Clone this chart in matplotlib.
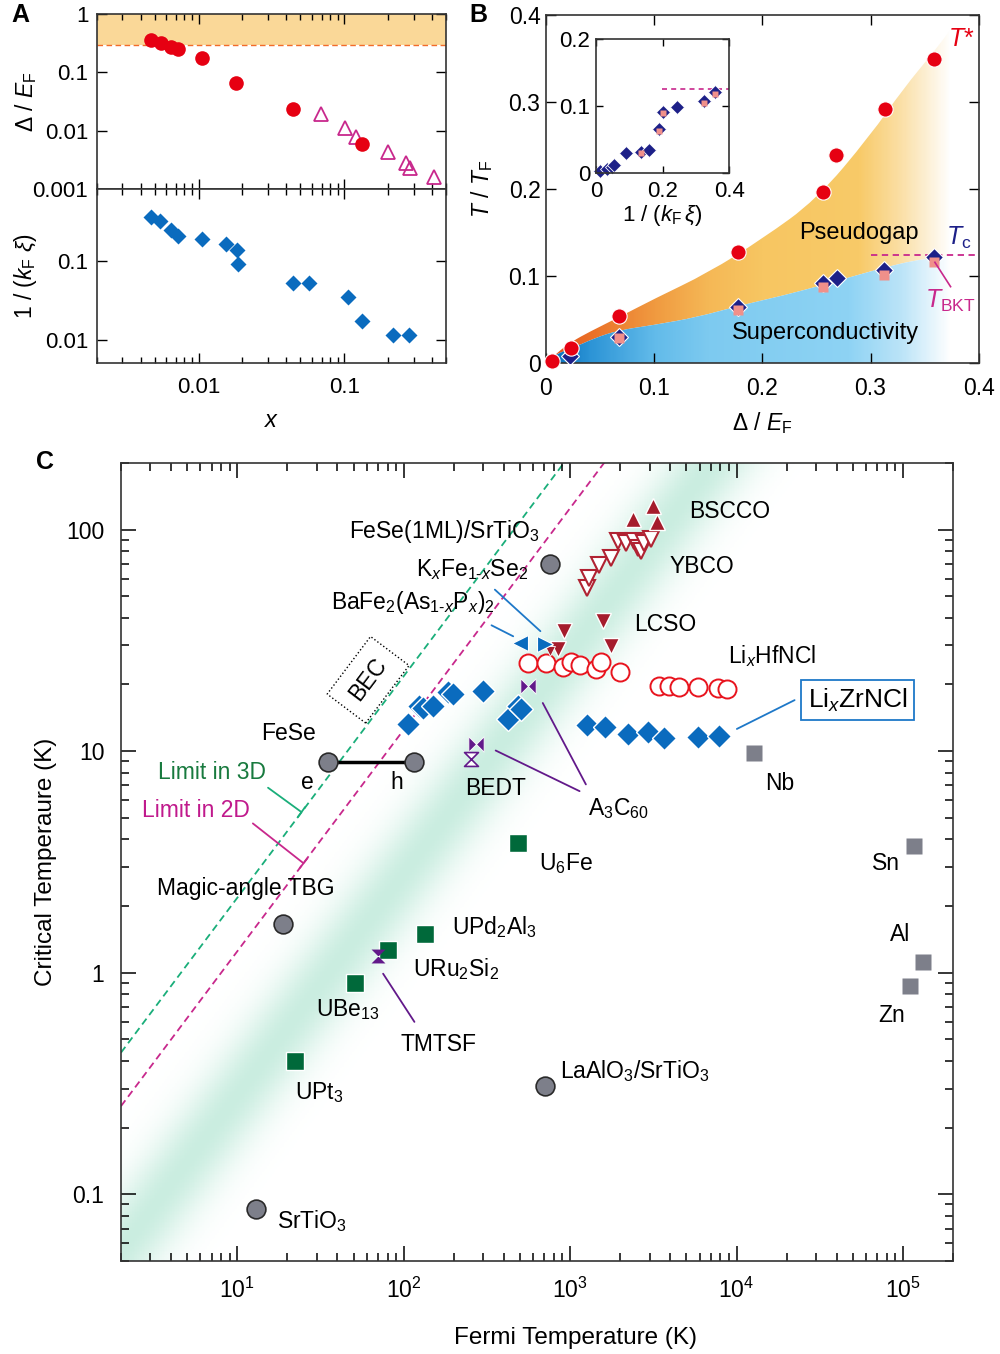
import numpy as np
import matplotlib
matplotlib.use('Agg')
import matplotlib.pyplot as plt
from matplotlib.path import Path
from matplotlib.patches import PathPatch
from matplotlib.colors import LinearSegmentedColormap
from matplotlib.ticker import NullLocator, NullFormatter

plt.rcParams['font.family'] = ['Liberation Sans', 'DejaVu Sans']
plt.rcParams['mathtext.fontset'] = 'custom'
plt.rcParams['mathtext.rm'] = 'Liberation Sans'
plt.rcParams['mathtext.it'] = 'Liberation Sans:italic'
plt.rcParams['mathtext.bf'] = 'Liberation Sans:bold'
plt.rcParams['axes.edgecolor'] = '#333333'
plt.rcParams['axes.linewidth'] = 1.2

# ---------------- datos panel A ----------------
a_x_circ = [0.0047, 0.0055, 0.0065, 0.0072, 0.0106, 0.0182, 0.0446, 0.132]
a_gap_circ = [0.36, 0.315, 0.27, 0.248, 0.179, 0.067, 0.0233, 0.0059]
a_x_tri = [0.069, 0.101, 0.121, 0.199, 0.264, 0.285, 0.413]
a_gap_tri = [0.0194, 0.011, 0.0079, 0.0044, 0.0028, 0.0023, 0.0016]
a_x_dia = [0.0047, 0.00545, 0.0065, 0.0072, 0.0106, 0.0155, 0.0184, 0.0187,
           0.0446, 0.0577, 0.107, 0.132, 0.217, 0.278]
a_kxi = [0.354, 0.315, 0.246, 0.202, 0.189, 0.160, 0.135, 0.0898,
         0.0513, 0.0513, 0.0348, 0.0174, 0.0115, 0.0115]

# ---------------- datos panel B ----------------
b_gap = [0.0053, 0.0228, 0.0675, 0.1772, 0.2557, 0.2681, 0.3134, 0.359]
b_tstar = [0.003, 0.018, 0.0547, 0.1275, 0.1964, 0.2392, 0.292, 0.3495]
b_gap_tc = [0.0222, 0.0675, 0.1778, 0.2564, 0.2687, 0.3128, 0.359]
b_tc = [0.0084, 0.0306, 0.065, 0.0919, 0.0984, 0.1072, 0.1225]
b_gap_bkt = [0.0675, 0.1778, 0.2564, 0.3128, 0.359]
b_tbkt = [0.0287, 0.0612, 0.0875, 0.1018, 0.1163]
# bordes de las zonas sombreadas (puntos de control)
tstar_edge_x = [0, 0.01, 0.024, 0.04, 0.0675, 0.1, 0.15, 0.2, 0.25, 0.3, 0.33, 0.36, 0.375]
tstar_edge_y = [0, 0.012, 0.025, 0.036, 0.053, 0.074, 0.104, 0.143, 0.188, 0.262, 0.315, 0.36, 0.385]
tc_edge_x = [0, 0.007, 0.024, 0.045, 0.0675, 0.1, 0.14, 0.178, 0.22, 0.256, 0.29, 0.313, 0.34, 0.36, 0.375]
tc_edge_y = [0, 0.0095, 0.017, 0.029, 0.038, 0.044, 0.053, 0.066, 0.078, 0.09, 0.102, 0.110, 0.118, 0.121, 0.122]
# inset
in_kxi = [0.012, 0.034, 0.047, 0.054, 0.09, 0.134, 0.16, 0.19, 0.202, 0.242, 0.324, 0.357]
in_tc = [0.0025, 0.005, 0.009, 0.0115, 0.029, 0.0315, 0.034, 0.065, 0.0915, 0.098, 0.1075, 0.1215]
in_kxi_bkt = [0.134, 0.19, 0.202, 0.324, 0.357]
in_tbkt = [0.030, 0.0625, 0.089, 0.104, 0.1175]

# ---------------- datos panel C (TF, Tc en K) ----------------
circ_tf = [755, 18.9, 13.0, 703]          # FeSe/STO, TBG, SrTiO3, LAO/STO
circ_tc = [70.3, 1.66, 0.0857, 0.307]
fese_tf = [35.2, 116]                       # FeSe e, h
fese_tc = [8.96, 8.96]
elem_tf = [12800, 116700, 131900, 110200]   # Nb, Sn, Al, Zn
elem_tc = [9.77, 3.74, 1.12, 0.87]
hf_tf = [484, 133.6, 80.9, 50.7, 22.1]      # U6Fe, UPd2Al3, URu2Si2, UBe13, UPt3
hf_tc = [3.86, 1.5, 1.27, 0.90, 0.40]
dia_tf = [106, 123, 130, 150, 184, 197, 299, 422, 484, 508]
dia_tc = [13.2, 16.0, 15.7, 16.0, 18.5, 18.1, 18.7, 13.9, 16.0, 15.5]
zr_tf = [1256, 1622, 2222, 2957, 3677, 5847, 7816]
zr_tc = [13.1, 12.8, 11.97, 12.2, 11.5, 11.6, 11.7]
hfn_tf = [560, 718, 903, 1010, 1150, 1440, 1540, 1990, 3420, 3911, 4520, 5903, 7700, 8800]
hfn_tc = [25.0, 25.0, 24.0, 25.2, 24.6, 23.5, 25.3, 22.7, 19.6, 19.6, 19.4, 19.4, 19.3, 19.1]
ybco_tf = [1259, 1294, 1486, 1762, 1932, 2168, 2432, 2547, 2667, 2792, 3062]
ybco_tc = [54.8, 60.8, 69.1, 74.7, 88.9, 87.4, 88.9, 83.0, 80.2, 87.4, 91.1]
bscco_tf = [2399, 3133, 3314]
bscco_tc = [112, 128, 108.6]
lcso_tf = [925, 1585, 843, 1762]
lcso_tc = [34.9, 38.6, 28.8, 29.8]
bafe_tf, bafe_tc = [499], [30.9]
kfese_tf, kfese_tc = [705], [30.6]
a3c60_tf = [272, 560]
a3c60_tc = [10.8, 19.6]
bedt_tf, bedt_tc = [254], [9.2]
tmtsf_tf, tmtsf_tc = [70.2], [1.19]
lim3d = 0.218
lim2d = 0.125
banda = 0.028

red = '#E60012'
blue = '#0A6BBE'
navy = '#1D2088'
pink = '#F0908A'
magenta = '#C8288C'
gray = '#7D7F8A'
dred = '#A51C2C'
green = '#00693A'
purple = '#62198A'
lblue = '#1E78C8'

fig = plt.figure(figsize=(10, 13.54), dpi=100)

# ================= Panel A =================
axA1 = fig.add_axes([0.0967, 0.8602, 0.3493, 0.1295])
axA2 = fig.add_axes([0.0967, 0.7317, 0.3493, 0.1285], sharex=axA1)
axA1.axhspan(0.3, 1, color='#FAD898', lw=0, zorder=0)
axA1.axhline(0.3, color='#F26B2A', ls=(0, (4, 2.5)), lw=1.0, zorder=1)
axA1.plot(a_x_circ, a_gap_circ, 'o', color=red, ms=10.5, mec='none', zorder=3)
axA1.plot(a_x_tri, a_gap_tri, '^', mfc='none', mec=magenta, mew=1.3, ms=10, zorder=2)
axA2.plot(a_x_dia, a_kxi, 'D', color=blue, ms=8.5, mec='none')
for ax in (axA1, axA2):
    ax.set_xscale('log')
    ax.set_yscale('log')
    ax.tick_params(which='both', direction='in', top=True, right=True, labelsize=16, width=1)
    ax.tick_params(which='major', length=7)
    ax.tick_params(which='minor', length=4.5)
    ax.tick_params(axis='x', pad=10)
    ax.tick_params(axis='y', pad=6)
    ax.yaxis.set_minor_locator(NullLocator())
    ax.xaxis.set_minor_formatter(NullFormatter())
axA1.set_xlim(0.002, 0.5)
axA2.set_xticks([0.01, 0.1])
axA2.set_xticklabels(['0.01', '0.1'])
axA2.xaxis.set_minor_formatter(NullFormatter())
axA1.set_ylim(0.001, 1)
axA1.set_yticks([0.001, 0.01, 0.1, 1])
axA1.set_yticklabels(['0.001', '0.01', '0.1', '1'])
axA1.tick_params(labelbottom=False)
axA2.set_ylim(0.005, 0.8)
axA2.set_yticks([0.01, 0.1])
axA2.set_yticklabels(['0.01', '0.1'])
axA1.set_ylabel(r'$\Delta$ / $E_{\rm F}$', fontsize=16.5)
axA2.set_ylabel(r'1 / ($k_{\rm F}$ $\xi$)', fontsize=16.5)
axA2.set_xlabel(r'$x$', fontsize=17)
axA1.yaxis.set_label_coords(-0.165, 0.5)
axA2.yaxis.set_label_coords(-0.165, 0.5)
axA2.xaxis.set_label_coords(0.5, -0.27)

# ================= Panel B =================
axB = fig.add_axes([0.546, 0.7317, 0.4327, 0.2572])


def camino_suave(xt, yt, xb, yb):
    # borde superior y borde inferior (invertido) con curvas cuadraticas
    verts, codes = [], []
    for k, (xs, ys) in enumerate([(xt, yt), (xb[::-1], yb[::-1])]):
        pts = np.column_stack([xs, ys])
        verts.append(pts[0])
        codes.append(Path.MOVETO if k == 0 else Path.LINETO)
        for i in range(1, len(pts) - 1):
            verts += [pts[i], (pts[i] + pts[i + 1]) / 2]
            codes += [Path.CURVE3, Path.CURVE3]
        verts.append(pts[-1])
        codes.append(Path.LINETO)
    verts.append(verts[0])
    codes.append(Path.CLOSEPOLY)
    return Path(verts, codes)


def relleno(ax, xt, yt, xb, yb, pos, cols):
    patch = PathPatch(camino_suave(xt, yt, xb, yb), fc='none', ec='none')
    ax.add_patch(patch)
    cmap = LinearSegmentedColormap.from_list('g', list(zip(np.array(pos) / 0.375, cols)))
    grad = np.linspace(0, 1, 300).reshape(1, -1)
    im = ax.imshow(grad, extent=(0, 0.375, 0, 0.4), cmap=cmap, aspect='auto',
                   origin='lower', zorder=1, interpolation='bilinear')
    im.set_clip_path(patch)


relleno(axB, tstar_edge_x, tstar_edge_y, tc_edge_x, tc_edge_y,
        [0, 0.04, 0.1, 0.15, 0.2, 0.29, 0.33, 0.375],
        ['#E4501A', '#EA7028', '#F09A40', '#F5B856', '#F7C662', '#F8CA68', '#FBE0A8', '#FFFFFF'])
relleno(axB, tc_edge_x, tc_edge_y, [0, 0.375], [0, 0],
        [0, 0.04, 0.1, 0.15, 0.28, 0.33, 0.375],
        ['#0068B8', '#2C94D6', '#62BBEA', '#7DCAF0', '#8ED3F4', '#BCE4F8', '#FFFFFF'])

axB.plot([0.3, 0.4], [0.1245, 0.1245], color=magenta, ls=(0, (3.5, 2.5)), lw=1.3, zorder=2)
axB.plot(b_gap_tc, b_tc, 'D', color=navy, ms=9, mec='white', mew=0.8, zorder=3)
axB.plot(b_gap_bkt, b_tbkt, 's', color=pink, ms=6.5, mec='none', zorder=4)
axB.plot(b_gap, b_tstar, 'o', color=red, ms=11, mec='white', mew=0.8, zorder=5, clip_on=False)
axB.plot([0.374, 0.3595], [0.088, 0.116], color=magenta, lw=1.2, zorder=4)
axB.text(0.372, 0.373, r'$T$*', color=red, fontsize=18, ha='left', va='center')
axB.text(0.370, 0.1435, r'$T_{\rm c}$', color=navy, fontsize=18, ha='left', va='center')
axB.text(0.350, 0.072, r'$T_{\rm BKT}$', color=magenta, fontsize=18, ha='left', va='center')
axB.text(0.289, 0.150, 'Pseudogap', fontsize=17, ha='center', va='center', zorder=6)
axB.text(0.258, 0.0345, 'Superconductivity', fontsize=17, ha='center', va='center', zorder=6)
axB.set_xlim(0, 0.4)
axB.set_ylim(0, 0.4)
axB.set_xticks([0, 0.1, 0.2, 0.3, 0.4])
axB.set_xticklabels(['0', '0.1', '0.2', '0.3', '0.4'])
axB.set_yticks([0, 0.1, 0.2, 0.3, 0.4])
axB.set_yticklabels(['0', '0.1', '0.2', '0.3', '0.4'])
axB.tick_params(direction='in', top=True, right=True, length=7, width=1, labelsize=16.5)
axB.tick_params(axis='x', pad=10)
axB.tick_params(axis='y', pad=4)
axB.set_xlabel(r'$\Delta$ / $E_{\rm F}$', fontsize=16.5)
axB.set_ylabel(r'$T$ / $T_{\rm F}$', fontsize=16.5)
axB.xaxis.set_label_coords(0.5, -0.135)
axB.yaxis.set_label_coords(-0.118, 0.5)

axI = fig.add_axes([0.596, 0.8724, 0.1333, 0.0985])
axI.plot([0.197, 0.4], [0.125, 0.125], color=magenta, ls=(0, (3, 2.5)), lw=1.2)
axI.plot(in_kxi, in_tc, 'D', color=navy, ms=7, mec='white', mew=0.6, clip_on=False)
axI.plot(in_kxi_bkt, in_tbkt, 's', color=pink, ms=4.5, mec='none')
axI.set_xlim(0, 0.4)
axI.set_ylim(0, 0.2)
axI.set_xticks([0, 0.2, 0.4])
axI.set_xticklabels(['0', '0.2', '0.4'])
axI.set_yticks([0, 0.1, 0.2])
axI.set_yticklabels(['0', '0.1', '0.2'])
axI.tick_params(direction='in', top=True, right=True, length=5, width=1, labelsize=16)
axI.tick_params(axis='x', pad=6)
axI.tick_params(axis='y', pad=4)
axI.set_xlabel(r'1 / ($k_{\rm F}\,\xi$)', fontsize=16)
axI.xaxis.set_label_coords(0.5, -0.23)

# ================= Panel C =================
axC = fig.add_axes([0.121, 0.0687, 0.832, 0.5894])
axC.set_xscale('log')
axC.set_yscale('log')

# banda verde de fondo
lx = np.linspace(np.log10(2), np.log10(2e5), 500)
ly = np.linspace(np.log10(0.05), np.log10(200), 500)
LX, LY = np.meshgrid(lx, ly)
dist = LY - LX - np.log10(banda)
inten = np.exp(-(dist / 0.27) ** 2)
cmap_band = LinearSegmentedColormap.from_list('band', ['#FFFFFF', '#CAEDE0'])
axC.pcolormesh(10 ** lx, 10 ** ly, inten, cmap=cmap_band, shading='auto',
               vmin=0, vmax=1, zorder=0, rasterized=True)

tfl = np.array([2, 2e5])
axC.plot(tfl, lim3d * tfl, color='#1AAE7A', ls=(0, (4, 2.5)), lw=1.3, zorder=1)
axC.plot(tfl, lim2d * tfl, color=magenta, ls=(0, (4, 2.5)), lw=1.3, zorder=1)

# marcadores especiales
bowtie = Path([(-1, 1), (0, 0), (-1, -1), (-1, 1), (1, 1), (0, 0), (1, -1), (1, 1)],
              [1, 2, 2, 79, 1, 2, 2, 79])
hourglass = Path([(-1, 1), (1, 1), (0, 0), (-1, 1), (-1, -1), (1, -1), (0, 0), (-1, -1)],
                 [1, 2, 2, 79, 1, 2, 2, 79])

axC.plot(fese_tf, fese_tc, '-', color='black', lw=2.5, zorder=2)
axC.plot(fese_tf, fese_tc, 'o', color=gray, ms=13.5, mec='#2a2a2a', mew=1.2, zorder=3)
axC.plot(circ_tf, circ_tc, 'o', color=gray, ms=13.5, mec='#2a2a2a', mew=1.2, zorder=3)
axC.plot(elem_tf, elem_tc, 's', color=gray, ms=12, mec='none', zorder=3)
axC.plot(hf_tf, hf_tc, 's', color=green, ms=12.5, mec='white', mew=1, zorder=3)
axC.plot(dia_tf, dia_tc, 'D', color=blue, ms=12, mec='white', mew=1, zorder=3)
axC.plot(zr_tf, zr_tc, 'D', color=blue, ms=12, mec='white', mew=1, zorder=3)
axC.plot(hfn_tf, hfn_tc, 'o', mfc='white', mec='#E8141E', mew=1.4, ms=13, zorder=3)
axC.plot(ybco_tf, ybco_tc, 'v', mfc='white', mec='#B02232', mew=1.5, ms=12, zorder=3)
axC.plot(bscco_tf, bscco_tc, '^', color=dred, ms=12, mec='white', mew=1, zorder=3)
axC.plot(lcso_tf, lcso_tc, 'v', color=dred, ms=12, mec='white', mew=1, zorder=4)
axC.plot([752], [28.3], 'v', color=dred, ms=7, mec='white', mew=0.6, zorder=4)
axC.plot(bafe_tf, bafe_tc, '<', color=blue, ms=11, mec='white', mew=0.8, zorder=4)
axC.plot(kfese_tf, kfese_tc, '>', color=blue, ms=11, mec='white', mew=0.8, zorder=4)
axC.plot(a3c60_tf, a3c60_tc, marker=bowtie, ls='none', color=purple, ms=11, mec='white', mew=0.6, zorder=4)
axC.plot(bedt_tf, bedt_tc, marker=hourglass, ls='none', mfc='white', mec=purple, mew=1.2, ms=10, zorder=4)
axC.plot(tmtsf_tf, tmtsf_tc, marker=hourglass, ls='none', color=purple, ms=10, mec='none', zorder=4)

# textos
fs = 16.5
def lab(x, y, s, ha='left', **kw):
    axC.text(x, y, s, fontsize=kw.pop('fontsize', fs), ha=ha, va='center', zorder=6, **kw)

lab(46.9, 98.3, r'FeSe(1ML)/SrTiO$_3$')
lab(119, 66, r'K$_x$Fe$_{1\text{-}x}$Se$_2$')
lab(36.7, 46.7, r'BaFe$_2$(As$_{1\text{-}x}$P$_x$)$_2$')
lab(20.4, 12.0, 'FeSe', ha='center')
lab(26.2, 7.25, 'e', ha='center')
lab(91.2, 7.25, 'h', ha='center')
lab(7.08, 7.98, 'Limit in 3D', ha='center', color='#187A3E')
lab(5.67, 5.40, 'Limit in 2D', ha='center', color='#C0198C')
lab(11.2, 2.40, 'Magic-angle TBG', ha='center')
lab(17.3, 0.0756, r'SrTiO$_3$')
lab(22.1, 0.289, r'UPt$_3$')
lab(29.6, 0.684, r'UBe$_{13}$')
lab(95.5, 0.476, 'TMTSF')
lab(114, 1.04, r'URu$_2$Si$_2$')
lab(194, 1.61, r'UPd$_2$Al$_3$')
lab(653, 3.12, r'U$_6$Fe')
lab(873, 0.361, r'LaAlO$_3$/SrTiO$_3$')
lab(357, 6.76, 'BEDT', ha='center')
lab(1274, 5.50, r'A$_3$C$_{60}$')
lab(5224, 121, 'BSCCO')
lab(3954, 68.3, 'YBCO')
lab(2438, 37.2, 'LCSO')
lab(8913, 26.8, r'Li$_x$HfNCl')
lab(18100, 7.14, 'Nb', ha='center')
lab(79600, 3.12, 'Sn', ha='center')
lab(96100, 1.49, 'Al', ha='center')
lab(85300, 0.643, 'Zn', ha='center')
lab(53300, 17.0, r'Li$_x$ZrNCl', ha='center', fontsize=19,
    bbox=dict(boxstyle='square,pad=0.25', fc='white', ec=lblue, lw=1.3))
axC.text(61.1, 21.0, 'BEC', fontsize=fs, rotation=53, ha='center', va='center', zorder=6,
         rotation_mode='anchor',
         bbox=dict(boxstyle='square,pad=0.55', fc='none', ec='black', lw=1.0, ls=':'))

# lineas indicadoras
def linea(p0, p1, color, bracket=False):
    style = '-[,widthB=0.45,lengthB=0' if bracket else '-'
    axC.annotate('', xy=p1, xytext=p0,
                 arrowprops=dict(arrowstyle=style, color=color, lw=1.3,
                                 shrinkA=0, shrinkB=0), zorder=5)

linea((15.3, 6.84), (24.3, 5.31), '#1AAE7A', bracket=True)
linea((12.4, 4.72), (25.0, 3.12), magenta, bracket=True)
linea((116, 0.60), (75.2, 0.99), purple)
linea((1140, 6.6), (357, 10.07), purple)
linea((1244, 7.08), (685, 16.5), purple)
linea((22340, 17.0), (10050, 12.6), lblue)
linea((353, 53.6), (663, 34.8), lblue)
linea((337, 37.0), (455, 33.0), lblue)

axC.set_xlim(2, 2e5)
axC.set_ylim(0.05, 200)
axC.set_yticks([0.1, 1, 10, 100])
axC.set_yticklabels(['0.1', '1', '10', '100'])
axC.set_xticks([10, 100, 1000, 1e4, 1e5])
axC.tick_params(which='both', direction='in', top=True, right=True, width=1.1, labelsize=16.5)
axC.tick_params(which='major', length=11)
axC.tick_params(which='minor', length=6)
axC.tick_params(axis='x', pad=12)
axC.tick_params(axis='y', pad=12)
axC.xaxis.set_minor_formatter(NullFormatter())
axC.yaxis.set_minor_formatter(NullFormatter())
axC.set_xlabel('Fermi Temperature (K)', fontsize=17.5)
axC.set_ylabel('Critical Temperaure (K)', fontsize=17.5)
axC.xaxis.set_label_coords(0.546, -0.083)
axC.yaxis.set_label_coords(-0.077, 0.5)

fig.text(0.02, 0.989, 'A', fontsize=18, weight='bold', ha='center', va='center')
fig.text(0.478, 0.989, 'B', fontsize=18, weight='bold', ha='center', va='center')
fig.text(0.045, 0.659, 'C', fontsize=18, weight='bold', ha='center', va='center')

fig.savefig('out.png', dpi=100)
